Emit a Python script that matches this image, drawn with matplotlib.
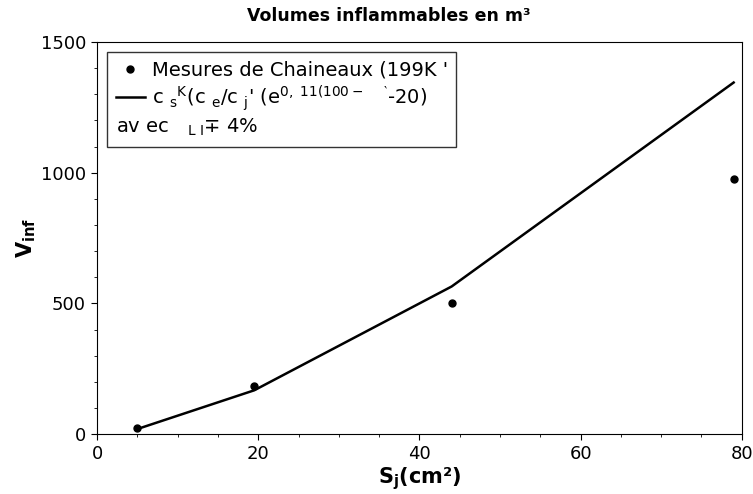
import matplotlib
matplotlib.use("Agg")
import matplotlib.pyplot as plt
from matplotlib.ticker import MultipleLocator

# données
s_mesure = [5, 19.5, 44, 79]
v_mesure = [22, 184, 503, 975]

s_modele = [5, 19.5, 44, 79]
v_modele = [20, 168, 565, 1345]

lab_mesure = "Mesures de Chaineaux (199K '"
lab_modele = (r"c $_\mathrm{s}$$^\mathrm{K}$(c $_\mathrm{e}$/c $_\mathrm{j}$' "
              r"(e$^\mathrm{0,\ 11(100-\ \ \ \ }$$^{\backprime}$-20)")
lab_avec = r"av ec   $_\mathrm{L\ I}$∓ 4%"

fig, ax = plt.subplots(figsize=(7.53, 4.94), dpi=100)
fig.subplots_adjust(left=0.129, right=0.985, top=0.915, bottom=0.121)

ax.plot(s_mesure, v_mesure, "o", color="black", markersize=5, label=lab_mesure)
ax.plot(s_modele, v_modele, "-", color="black", linewidth=1.8, label=lab_modele)
ax.plot([], [], " ", label=lab_avec)

ax.set_xlim(0, 80)
ax.set_ylim(0, 1500)
ax.xaxis.set_major_locator(MultipleLocator(20))
ax.xaxis.set_minor_locator(MultipleLocator(5))
ax.yaxis.set_major_locator(MultipleLocator(500))
ax.yaxis.set_minor_locator(MultipleLocator(100))
ax.tick_params(which="major", direction="out", length=4.5, labelsize=13)
ax.tick_params(which="minor", direction="out", length=2.5)

fig.text(0.516, 0.968, "Volumes inflammables en m³", fontsize=12.5,
         fontweight="bold", ha="center", va="center")
ax.set_xlabel(r"S$_\mathbf{j}$(cm²)", fontsize=15, fontweight="bold", labelpad=1)
ax.set_ylabel(r"V$_\mathbf{inf}$", fontsize=15, fontweight="bold", labelpad=2)

leg = ax.legend(loc="upper left", fontsize=14, frameon=True, fancybox=False,
                edgecolor="black", handlelength=1.5, handletextpad=0.35,
                labelspacing=0.2, borderpad=0.45, borderaxespad=0.5)
leg.get_frame().set_linewidth(1.0)
# la 3e ligne n'a pas de symbole
row = leg._legend_handle_box.get_children()[0].get_children()[2]
row._children = [row.get_children()[1]]

fig.savefig("out.png", dpi=100)
